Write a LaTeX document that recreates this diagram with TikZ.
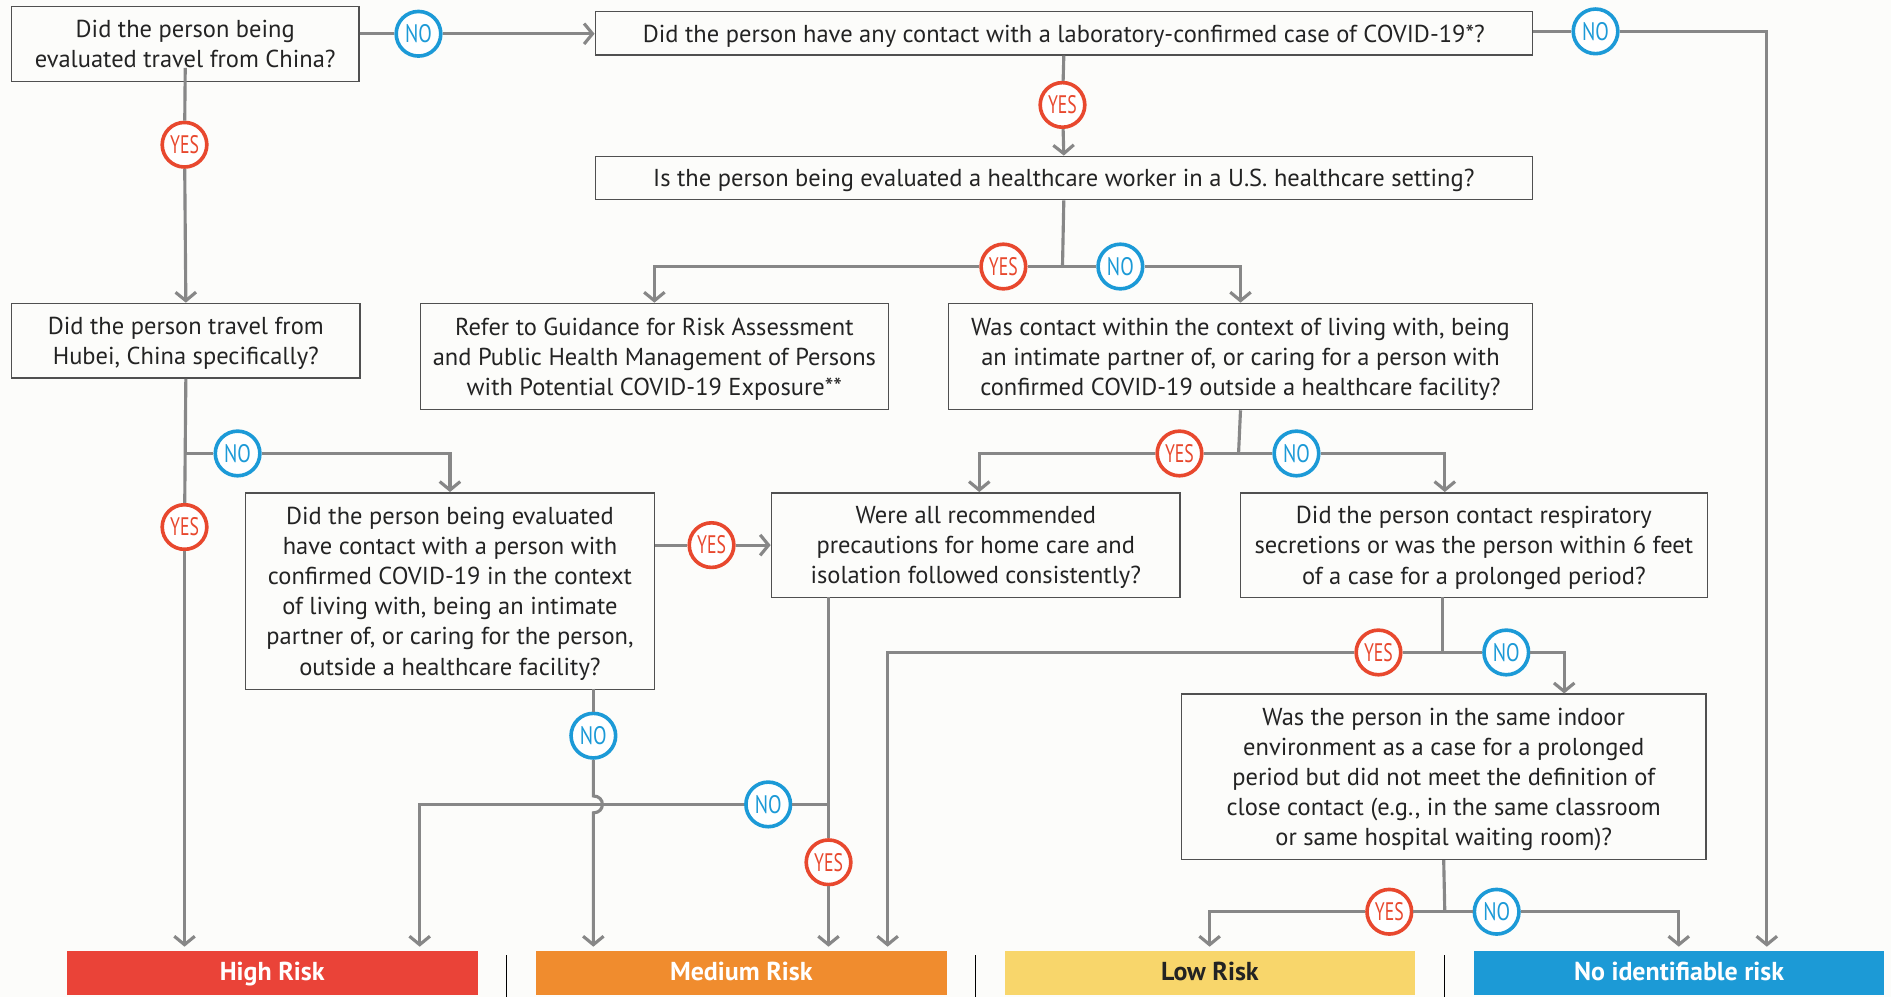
\documentclass[tikz,border=0pt]{standalone}
\usepackage{graphicx}
\usepackage{fontspec}
\setmainfont{PT Sans}
\usetikzlibrary{arrows.meta,calc}
\definecolor{bgc}{RGB}{252,252,250}
\definecolor{lnc}{RGB}{135,135,135}
\definecolor{bdr}{RGB}{80,80,80}
\definecolor{txc}{RGB}{35,35,35}
\definecolor{yesc}{RGB}{232,72,46}
\definecolor{noc}{RGB}{28,154,215}
\definecolor{highc}{RGB}{234,67,56}
\definecolor{medc}{RGB}{240,140,46}
\definecolor{lowc}{RGB}{248,214,107}
\definecolor{nonec}{RGB}{28,154,214}
\newcommand{\yestxt}{\scalebox{0.7}[1]{YES}}
\newcommand{\notxt}{\scalebox{0.78}[1]{NO}}
\begin{document}
\begin{tikzpicture}[x=1pt,y=-1pt,
 qbox/.style={draw=bdr, line width=1.2pt, inner sep=0pt, align=center, anchor=north west, font=\fontsize{20.3}{25}\selectfont, text=txc, text depth=0pt},
 conn/.style={draw=lnc, line width=2.6pt},
 arr/.style={conn, -{Straight Barb[length=7pt,width=17pt]}},
 yesn/.style={circle, draw=yesc, fill=white, line width=3pt, minimum size=37pt, inner sep=0pt, text=yesc, font=\fontsize{21}{21}\selectfont},
 non/.style={circle, draw=noc, fill=white, line width=3pt, minimum size=37pt, inner sep=0pt, text=noc, font=\fontsize{21}{21}\selectfont},
 riskbar/.style={anchor=north west, minimum height=37pt, minimum width=341pt, inner sep=0pt, text height=1.25em, text depth=0pt, font=\bfseries\fontsize{21.5}{21.5}\selectfont, text=white},
 sepl/.style={draw=black, line width=0.8pt}
]
\fill[bgc] (0,0) rectangle (1568,827);
\useasboundingbox (0,0) rectangle (1568,827);

% boxes
\node[qbox, minimum width=288pt, minimum height=62pt] (box1) at (9,5) {Did the person being\\evaluated travel from China?};
\node[qbox, minimum width=777pt, minimum height=36pt] (box2) at (493,9) {Did the person have any contact with a laboratory-confirmed case of COVID-19*?};
\node[qbox, minimum width=777pt, minimum height=36pt] (box3) at (493,129) {Is the person being evaluated a healthcare worker in a U.S. healthcare setting?};
\node[qbox, minimum width=289pt, minimum height=62pt] (hubei) at (9,251) {Did the person travel from\\Hubei, China specifically?};
\node[qbox, minimum width=388pt, minimum height=88pt] (box4) at (348,251) {Refer to Guidance for Risk Assessment\\and Public Health Management of Persons\\with Potential COVID-19 Exposure**};
\node[qbox, minimum width=484pt, minimum height=88pt] (box5) at (786,251) {Was contact within the context of living with, being\\an intimate partner of, or caring for a person with\\confirmed COVID-19 outside a healthcare facility?};
\node[qbox, minimum width=339pt, minimum height=163pt] (box6) at (203,408) {Did the person being evaluated\\have contact with a person with\\confirmed COVID-19 in the context\\of living with, being an intimate\\partner of, or caring for the person,\\outside a healthcare facility?};
\node[qbox, minimum width=339pt, minimum height=87pt] (box7) at (639,408) {Were all recommended\\precautions for home care and\\isolation followed consistently?};
\node[qbox, minimum width=387pt, minimum height=87pt] (box8) at (1028,408) {Did the person contact respiratory\\secretions or was the person within 6 feet\\of a case for a prolonged period?};
\node[qbox, minimum width=435pt, minimum height=137pt] (box9) at (979,575) {Was the person in the same indoor\\environment as a case for a prolonged\\period but did not meet the definition of\\close contact (e.g., in the same classroom\\or same hospital waiting room)?};

% risk bars
\node[riskbar, fill=highc] (high) at (55,788) {High Risk};
\node[riskbar, fill=medc] (med) at (444,788) {Medium Risk};
\node[riskbar, fill=lowc, text=txc, minimum width=340pt] (low) at (833,788) {Low Risk};
\node[riskbar, fill=nonec, minimum width=340pt] (none) at (1222,788) {No identifiable risk};
\draw[sepl] (420,792) -- (420,827);
\draw[sepl] (809,792) -- (809,827);
\draw[sepl] (1198,792) -- (1198,827);

% yes/no circles
\node[non] (n1) at (347,28) {\notxt};
\node[non] (n2) at (1323,26) {\notxt};
\node[yesn] (y2) at (881,87) {\yestxt};
\node[yesn] (y3) at (832,221) {\yestxt};
\node[non] (n3) at (929,221) {\notxt};
\node[yesn] (y1) at (153,120) {\yestxt};
\node[yesn] (y4) at (153,437) {\yestxt};
\node[non] (n4) at (197,376) {\notxt};
\node[yesn] (y6) at (590,452) {\yestxt};
\node[non] (n6) at (492,610) {\notxt};
\node[yesn] (y7) at (687,715) {\yestxt};
\node[non] (n7) at (637,667) {\notxt};
\node[yesn] (y5) at (978,376) {\yestxt};
\node[non] (n5) at (1075,376) {\notxt};
\node[yesn] (y8) at (1143,541) {\yestxt};
\node[non] (n8) at (1249,541) {\notxt};
\node[yesn] (y9) at (1152,756) {\yestxt};
\node[non] (n9) at (1241,756) {\notxt};

% junction / corner coordinates
\coordinate (c2) at (1465,26);
\coordinate (j3) at (881,221);
\coordinate (j4) at (153,376);
\coordinate (b6) at (492,571);
\coordinate (b7) at (687,495);
\coordinate (j7) at (687,667);
\coordinate (h2) at (348,667);
\coordinate (j5) at (1027,376);
\coordinate (k5) at (812,376);
\coordinate (m5) at (1198,376);
\coordinate (b8) at (1196,495);
\coordinate (j8) at (1196,541);
\coordinate (k8) at (736,541);
\coordinate (m8) at (1297,541);
\coordinate (j9) at (1198,756);
\coordinate (k9) at (1003,756);
\coordinate (m9) at (1392,756);

% connectors
\draw[conn] (box1.east |- n1) -- (n1);
\draw[arr] (n1) -- (box2.west |- n1);
\draw[conn] (box2.east |- n2) -- (n2);
\draw[arr, shorten >=3pt] (n2) -- (c2) -- (c2 |- none.north);
\draw[conn] (box2.south) -- (y2);
\draw[arr] (y2) -- (box3.north);
\draw[conn] (box3.south) -- (j3);
\draw[conn] (j3) -- (y3);
\draw[arr] (y3) -| (box4.north);
\draw[conn] (j3) -- (n3);
\draw[arr] (n3) -| (box5.north);
\draw[conn] ($(box1.south)+(0,-12)$) -- (y1);
\draw[arr] (y1) -- (hubei.north);
\draw[conn] (hubei.south) -- (y4);
\draw[arr, shorten >=3pt] (y4) -- (y4 |- high.north);
\draw[conn] (j4) -- (n4);
\draw[arr] (n4) -| (box6.north);
\draw[conn] (box6.east |- y6) -- (y6);
\draw[arr] (y6) -- (box7.west |- y6);
\draw[conn] (b6) -- (n6);
\draw[arr, shorten >=3pt] (n6) -- ($(j7-|b6)+(0,-7)$) .. controls ($(j7-|b6)+(10,-7)$) and ($(j7-|b6)+(10,7)$) .. ($(j7-|b6)+(0,7)$) -- (b6 |- med.north);
\draw[conn] (b7) -- (y7);
\draw[arr, shorten >=3pt] (y7) -- (b7 |- med.north);
\draw[conn] (j7) -- (n7);
\draw[arr, shorten >=3pt] (n7) -- (h2) -- (h2 |- high.north);
\draw[conn] (box5.south) -- (j5);
\draw[conn] (j5) -- (y5);
\draw[arr] (y5) -- (k5) -- (k5 |- box7.north);
\draw[conn] (j5) -- (n5);
\draw[arr] (n5) -- (m5) -- (m5 |- box8.north);
\draw[conn] (b8) -- (j8);
\draw[conn] (j8) -- (y8);
\draw[arr, shorten >=3pt] (y8) -- (k8) -- (k8 |- med.north);
\draw[conn] (j8) -- (n8);
\draw[arr] (n8) -- (m8) -- (m8 |- box9.north);
\draw[conn] (box9.south) -- (j9);
\draw[conn] (j9) -- (y9);
\draw[arr, shorten >=3pt] (y9) -- (k9) -- (k9 |- low.north);
\draw[conn] (j9) -- (n9);
\draw[arr, shorten >=3pt] (n9) -- (m9) -- (m9 |- none.north);
\end{tikzpicture}
\end{document}
